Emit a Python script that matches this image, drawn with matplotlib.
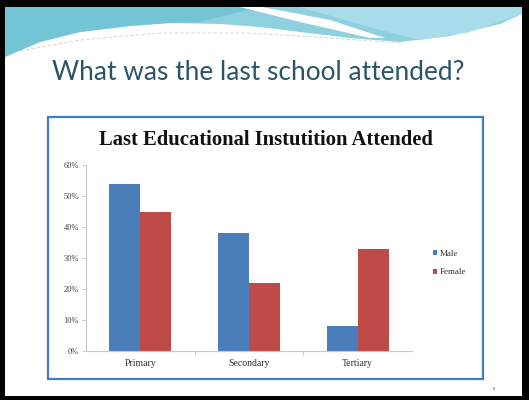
import matplotlib
matplotlib.use("Agg")
import matplotlib.pyplot as plt
from matplotlib.patches import Rectangle, Polygon
import numpy as np

categories = ["Primary", "Secondary", "Tertiary"]
male = [54, 38, 8]
female = [45, 22, 33]
series_names = ["Male", "Female"]
yticks = [0, 10, 20, 30, 40, 50, 60]
ytick_labels = ["0%", "10%", "20%", "30%", "40%", "50%", "60%"]
slide_title = "What was the last school attended?"
chart_title = "Last Educational Instutition Attended"
page_number = "11"

W, H = 529, 400
fig = plt.figure(figsize=(W / 100, H / 100), dpi=100)
fig.patch.set_facecolor("white")

# decoration layer in pixel coordinates
deco = fig.add_axes([0, 0, 1, 1], zorder=0)
deco.set_xlim(0, W)
deco.set_ylim(H, 0)
deco.axis("off")

# top wave
wx = [5, 40, 80, 130, 170, 220, 260, 300, 350, 400, 450, 500, 522]
wy = [57, 42, 32, 26, 23, 24, 27, 32, 38, 42, 36, 24, 14]
pts = [(5, 7)] + list(zip(wx, wy)) + [(522, 7)]
deco.add_patch(Polygon(pts, closed=True, facecolor="#8fd0de", edgecolor="none"))
# darker left part
lx = [5, 40, 80, 130, 170, 200]
ly = [57, 42, 32, 26, 23, 22]
pts2 = [(5, 7)] + list(zip(lx, ly)) + [(260, 7)]
deco.add_patch(Polygon(pts2, closed=True, facecolor="#6cc2d4", edgecolor="none", alpha=0.8))
# lighter right part
pts3 = [(300, 7), (522, 7), (522, 14), (470, 32), (420, 40), (380, 30)]
deco.add_patch(Polygon(pts3, closed=True, facecolor="#a9dcea", edgecolor="none"))
# white stripe
stripe = [(240, 7), (262, 7), (330, 20), (385, 38), (370, 38), (300, 22)]
deco.add_patch(Polygon(stripe, closed=True, facecolor="white", edgecolor="none"))
# thin faint line below swoosh
deco.plot([15, 80, 160, 250, 330, 400], [52, 40, 33, 33, 38, 43], color="#b8cbc6", lw=0.5, ls=(0, (5, 3)))

# black border
deco.add_patch(Rectangle((0, 0), W, 7, facecolor="black", edgecolor="none"))
deco.add_patch(Rectangle((0, 0), 5, H, facecolor="black", edgecolor="none"))
deco.add_patch(Rectangle((522, 0), W - 522, H, facecolor="black", edgecolor="none"))
deco.add_patch(Rectangle((0, 396), W, 4, facecolor="black", edgecolor="none"))

# chart frame
deco.add_patch(Rectangle((48, 117), 435, 262, facecolor="white", edgecolor="#3f7fbf", lw=1.6))

renderer = fig.canvas.get_renderer()

def fit_text(x, y, s, target_w, **kw):
    t = deco.text(x, y, s, **kw)
    fs = t.get_fontsize()
    for _ in range(3):
        w = t.get_window_extent(renderer=renderer).width
        fs = fs * target_w / w
        t.set_fontsize(fs)
    return t

fit_text(258, 80, slide_title, 413, ha="center", va="baseline",
         family="Lato", color="#2a5568", fontsize=20)
fit_text(266, 145, chart_title, 334, ha="center", va="baseline",
         family="Liberation Serif", weight="bold", color="#111111", fontsize=13)
deco.text(494, 389, page_number, ha="center", va="center", fontsize=3.5,
          color="#666666", family="Liberation Serif")

# chart axes
ax = fig.add_axes([86 / W, (H - 351) / H, (412 - 86) / W, (351 - 165) / H], zorder=2)
ax.set_facecolor("none")
x = np.arange(len(categories))
bw = 31 / 108.5
b1 = ax.bar(x - bw / 2, male, bw, color="#4a7ebb", label=series_names[0])
b2 = ax.bar(x + bw / 2, female, bw, color="#be4b48", label=series_names[1])
ax.set_xlim(-0.5, len(categories) - 0.5)
ax.set_ylim(0, 60)
ax.set_yticks(yticks)
ax.set_yticklabels(ytick_labels, family="Liberation Serif", fontsize=6, color="#444444")
ax.set_xticks(x)
ax.set_xticklabels(categories, family="Liberation Serif", fontsize=7, color="#333333")
ax.tick_params(axis="x", length=0, pad=6)
ax.tick_params(axis="y", length=3, color="#c8c8c8", width=0.7, pad=2)
ax.set_xticks([0.5, 1.5], minor=True)
ax.tick_params(axis="x", which="minor", length=3, color="#c8c8c8", width=0.7, direction="out")
for s in ["top", "right"]:
    ax.spines[s].set_visible(False)
for s in ["left", "bottom"]:
    ax.spines[s].set_color("#c8c8c8")
    ax.spines[s].set_linewidth(0.8)

leg = ax.legend(handles=[b1, b2], loc="center left", bbox_to_anchor=(428 / W, (H - 263) / H),
                bbox_transform=fig.transFigure, frameon=False,
                prop={"family": "Liberation Serif", "size": 6.5},
                handlelength=0.55, handleheight=0.55, handletextpad=0.3, labelspacing=1.2, borderpad=0)
for t in leg.get_texts():
    t.set_color("#333333")

fig.savefig("out.png", dpi=100)
